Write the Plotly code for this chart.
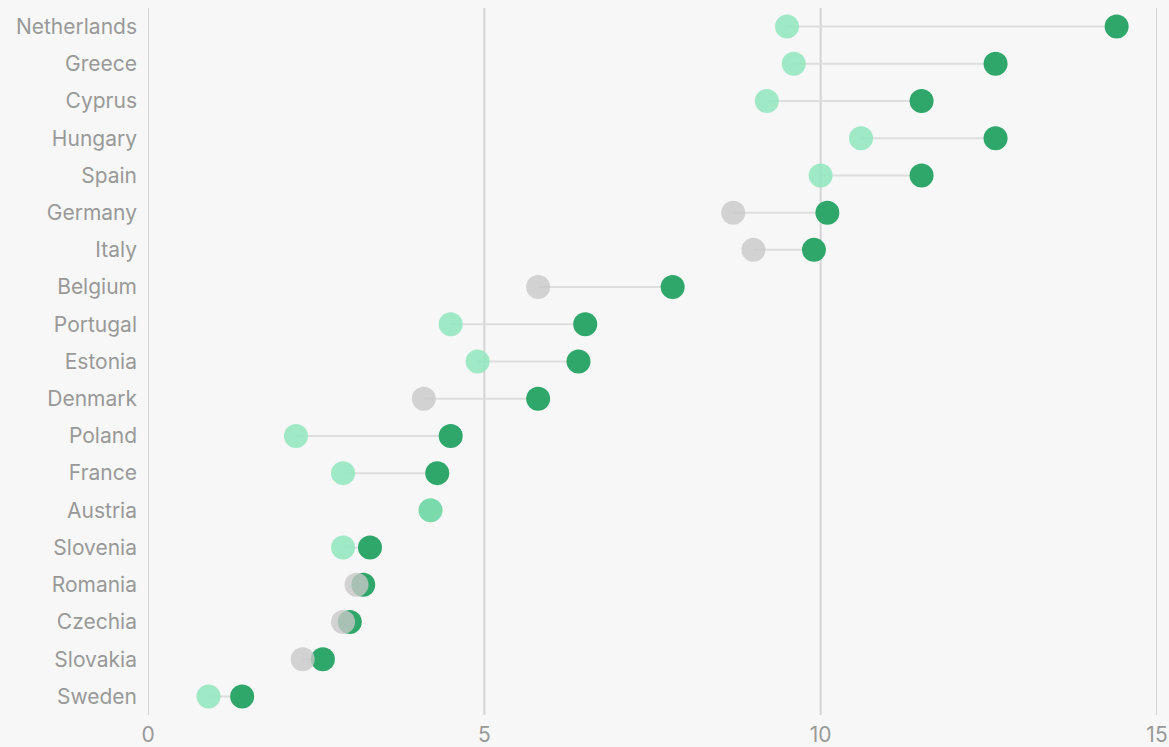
import plotly.graph_objects as go

countries = ["Netherlands", "Greece", "Cyprus", "Hungary", "Spain", "Germany", "Italy",
             "Belgium", "Portugal", "Estonia", "Denmark", "Poland", "France", "Austria",
             "Slovenia", "Romania", "Czechia", "Slovakia", "Sweden"]
start_values = [9.5, 9.6, 9.2, 10.6, 10.0, 8.7, 9.0, 5.8, 4.5, 4.9, 4.1, 2.2, 2.9, 4.2,
                2.9, 3.1, 2.9, 2.3, 0.9]
end_values = [14.4, 12.6, 11.5, 12.6, 11.5, 10.1, 9.9, 7.8, 6.5, 6.4, 5.8, 4.5, 4.3, 4.2,
              3.3, 3.2, 3.0, 2.6, 1.4]
start_kind = ["green", "green", "green", "green", "green", "grey", "grey", "grey", "green",
              "green", "grey", "green", "green", "same", "green", "grey", "grey", "grey", "green"]
x_ticks = [0, 5, 10, 15]

LIGHT = "rgba(145,230,190,0.85)"
GREY = "rgba(200,200,200,0.8)"
DARK = "#2fa76a"
SAME = "#7bdaab"

fig = go.Figure()

# vertical gridlines at tick values (including the range ends)
for t in x_ticks:
    fig.add_shape(type="line", xref="x", yref="paper", x0=t, x1=t, y0=0, y1=1,
                  line=dict(color="#d4d4d4", width=2), layer="below")

# connectors
for c, s, e in zip(countries, start_values, end_values):
    fig.add_trace(go.Scatter(x=[s, e], y=[c, c], mode="lines",
                             line=dict(color="#dedede", width=2),
                             hoverinfo="skip", showlegend=False))

# end dots (dark) - Austria shown as a single dot
ex = [e for e, k in zip(end_values, start_kind) if k != "same"]
ey = [c for c, k in zip(countries, start_kind) if k != "same"]
fig.add_trace(go.Scatter(x=ex, y=ey, mode="markers",
                         marker=dict(size=24, color=DARK, line=dict(width=0)),
                         showlegend=False))

# start dots
cols = {"green": LIGHT, "grey": GREY, "same": SAME}
fig.add_trace(go.Scatter(x=start_values, y=countries, mode="markers",
                         marker=dict(size=24, color=[cols[k] for k in start_kind], line=dict(width=0)),
                         showlegend=False))

fig.update_layout(
    width=1169, height=747,
    margin=dict(l=148, r=12, t=8, b=32),
    paper_bgcolor="#f7f7f7", plot_bgcolor="#f7f7f7",
    font=dict(family="Inter, Lato, sans-serif", size=21, color="#999999"),
    xaxis=dict(range=[0, 15], tickvals=x_ticks, ticktext=[str(t) for t in x_ticks],
               showgrid=False, zeroline=False, showline=False, ticks="", fixedrange=True,
               automargin=False, ticklabelstandoff=5),
    yaxis=dict(categoryorder="array", categoryarray=countries[::-1],
               range=[-0.5, 18.5], showgrid=False, zeroline=False, ticks="",
               ticklabelstandoff=10, automargin=False),
)

fig.write_html("out.html", config={"displayModeBar": False},
               post_script="document.body.style.margin='0';document.body.style.background='#f7f7f7';")
